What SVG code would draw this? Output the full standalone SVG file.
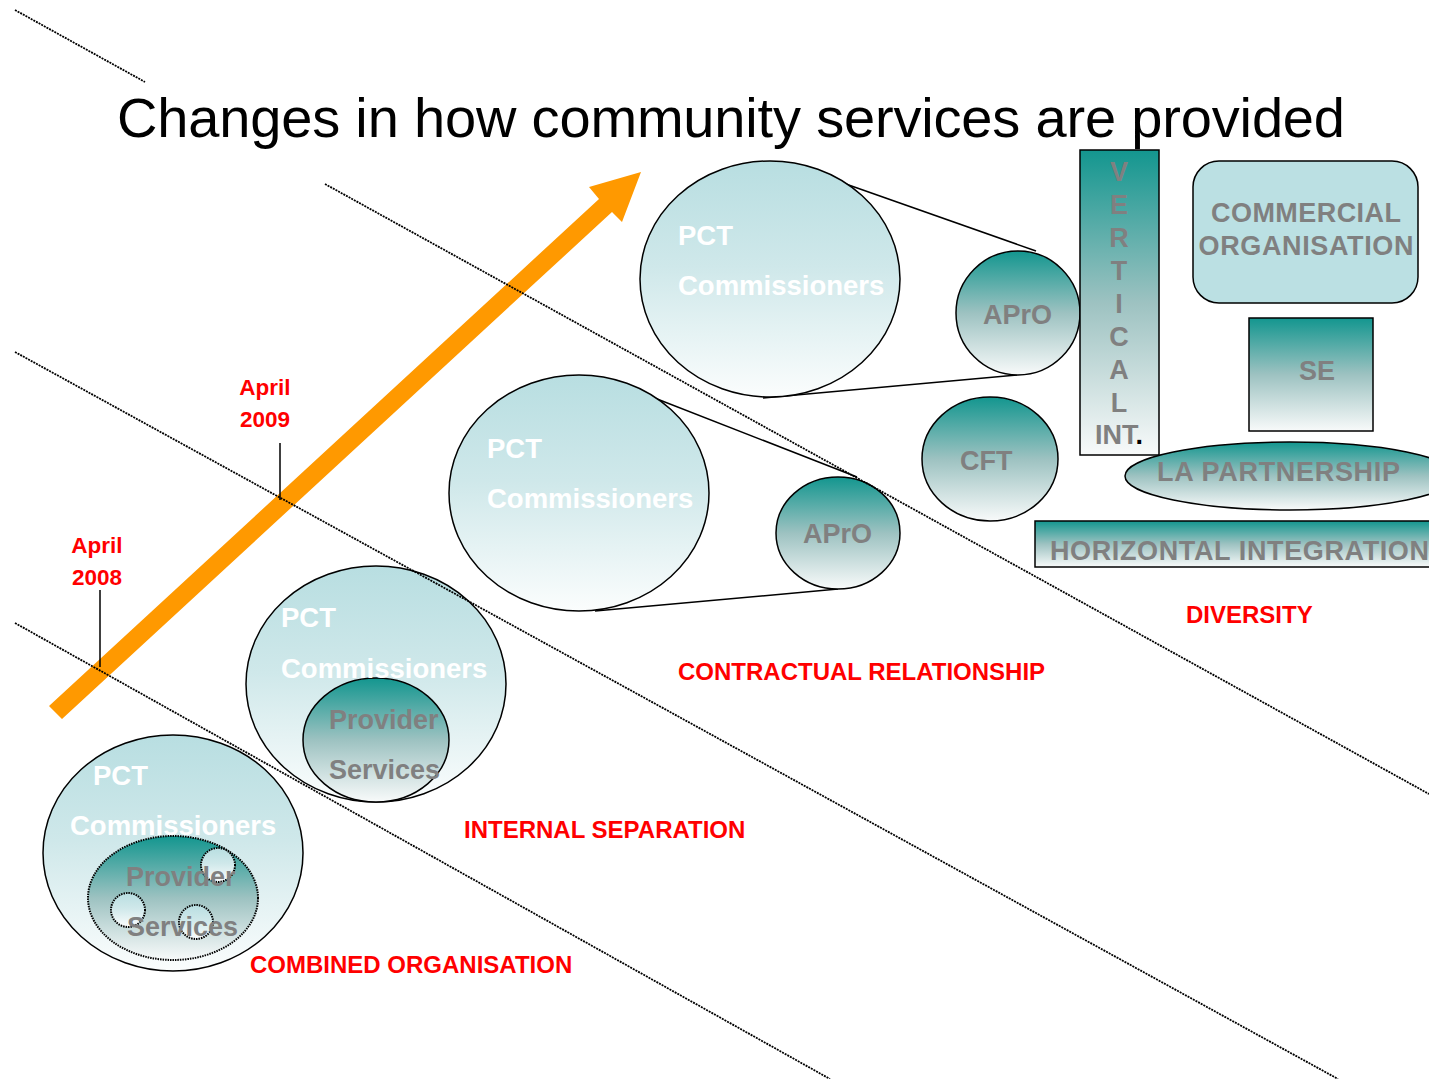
<svg xmlns="http://www.w3.org/2000/svg" width="1429" height="1079" viewBox="0 0 1429 1079">
<defs>
<linearGradient id="gLight" x1="0" y1="0" x2="0" y2="1">
<stop offset="0" stop-color="#b8dee1"/>
<stop offset="0.45" stop-color="#cfe8ea"/>
<stop offset="1" stop-color="#fbfdfd"/>
</linearGradient>
<linearGradient id="gTeal" x1="0" y1="0" x2="0" y2="1">
<stop offset="0" stop-color="#13968f"/>
<stop offset="0.5" stop-color="#9dc2c1"/>
<stop offset="1" stop-color="#f8fafa"/>
</linearGradient>
<style>
.dot{fill:none;stroke:#000;stroke-width:1.8;stroke-dasharray:2 1}
.edge{fill:none;stroke:#000;stroke-width:1.5}
.pct{fill:url(#gLight);stroke:#000;stroke-width:1.5}
.teal{fill:url(#gTeal);stroke:#000;stroke-width:1.5}
.wt{font-family:"Liberation Sans",Arial,sans-serif;font-weight:bold;font-size:27.5px;fill:#fff}
.gt{font-family:"Liberation Sans",Arial,sans-serif;font-weight:bold;font-size:27px;fill:#808080}
.rt{font-family:"Liberation Sans",Arial,sans-serif;font-weight:bold;font-size:24px;fill:#ff0000}
.at{font-family:"Liberation Sans",Arial,sans-serif;font-weight:bold;font-size:22.5px;fill:#ff0000;text-anchor:middle}
.vt{font-family:"Liberation Sans",Arial,sans-serif;font-weight:bold;font-size:27px;fill:#808080;text-anchor:middle}
.sm{fill:url(#gLight);stroke:#000;stroke-width:2;stroke-dasharray:1.5 1}
</style>
</defs>
<rect width="1429" height="1079" fill="#fff"/>

<text x="117" y="137" font-family="'Liberation Sans',Arial,sans-serif" font-size="56" fill="#000" textLength="1228">Changes in how community services are provided</text>

<g id="arrow">
<polygon points="49,706 599,199 589,187 641,172 622,222 612,212 62,719" fill="#ff9900"/>
</g>

<g id="combined">
<ellipse class="pct" cx="173" cy="853" rx="130" ry="118"/>
<ellipse cx="173" cy="898" rx="85" ry="62" fill="url(#gTeal)" stroke="#000" stroke-width="2" stroke-dasharray="1.5 1"/>
<circle class="sm" cx="218" cy="865" r="17"/>
<circle class="sm" cx="128" cy="910" r="17"/>
<circle class="sm" cx="196" cy="922" r="17"/>
<text class="wt" x="93" y="785">PCT</text>
<text class="wt" x="70" y="835">Commissioners</text>
<text class="gt" x="126" y="886">Provider</text>
<text class="gt" x="127" y="936">Services</text>
</g>

<g id="internal">
<ellipse class="pct" cx="376" cy="684" rx="130" ry="118"/>
<ellipse class="teal" cx="376" cy="740" rx="73" ry="62"/>
<text class="wt" x="281" y="627">PCT</text>
<text class="wt" x="281" y="678">Commissioners</text>
<text class="gt" x="329" y="729">Provider</text>
<text class="gt" x="329" y="779">Services</text>
</g>

<g id="contractual">
<line class="edge" x1="652" y1="397" x2="857" y2="477"/>
<line class="edge" x1="595" y1="611" x2="838" y2="589"/>
<ellipse class="pct" cx="579" cy="493" rx="130" ry="118"/>
<ellipse class="teal" cx="838" cy="533" rx="62" ry="56"/>
<text class="wt" x="487" y="458">PCT</text>
<text class="wt" x="487" y="508">Commissioners</text>
<text class="gt" x="803" y="543">APrO</text>
</g>

<g id="diversity">
<line class="edge" x1="843" y1="183" x2="1036" y2="251"/>
<line class="edge" x1="763" y1="398" x2="1017" y2="375"/>
<ellipse class="pct" cx="770" cy="279" rx="130" ry="118"/>
<ellipse class="teal" cx="1018" cy="313" rx="62" ry="62"/>
<text class="wt" x="678" y="245">PCT</text>
<text class="wt" x="678" y="295">Commissioners</text>
<text class="gt" x="983" y="324">APrO</text>
</g>

<g id="cft">
<ellipse class="teal" cx="990" cy="459" rx="68" ry="62"/>
<text class="gt" x="960" y="470">CFT</text>
</g>

<g id="vertical">
<rect x="1080" y="150" width="79" height="305" fill="url(#gTeal)" stroke="#000" stroke-width="1.5"/>
<text class="vt" x="1119" y="181">V</text>
<text class="vt" x="1119" y="214">E</text>
<text class="vt" x="1119" y="247">R</text>
<text class="vt" x="1119" y="280">T</text>
<text class="vt" x="1119" y="313">I</text>
<text class="vt" x="1119" y="346">C</text>
<text class="vt" x="1119" y="379">A</text>
<text class="vt" x="1119" y="412">L</text>
<text class="vt" x="1119" y="444">INT<tspan fill="#000">.</tspan></text>
</g>

<g id="commercial">
<rect x="1193" y="161" width="225" height="142" rx="26" ry="26" fill="#bbe0e3" stroke="#000" stroke-width="1.5"/>
<text class="gt" x="1306" y="222" text-anchor="middle" font-size="27.5" textLength="190">COMMERCIAL</text>
<text class="gt" x="1306" y="255" text-anchor="middle" font-size="27.5" textLength="215">ORGANISATION</text>
</g>

<g id="se">
<rect x="1249" y="318" width="124" height="113" fill="url(#gTeal)" stroke="#000" stroke-width="1.5"/>
<text class="gt" x="1317" y="380" text-anchor="middle">SE</text>
</g>

<g id="la">
<ellipse class="teal" cx="1290" cy="476" rx="165" ry="34"/>
<text class="gt" x="1157" y="481" textLength="243">LA PARTNERSHIP</text>
</g>

<g id="horizontal">
<rect x="1035" y="521" width="410" height="46" fill="url(#gTeal)" stroke="#000" stroke-width="1.5"/>
<text class="gt" x="1050" y="560" textLength="379">HORIZONTAL INTEGRATION</text>
</g>

<g id="connectors">
<line class="dot" x1="15" y1="10" x2="145" y2="82"/>
<line class="dot" x1="325" y1="184" x2="1429" y2="794"/>
<line class="dot" x1="15" y1="352" x2="1338" y2="1079"/>
<line class="dot" x1="15" y1="623" x2="830" y2="1079"/>
<line class="edge" x1="100" y1="590" x2="100" y2="667"/>
<line class="edge" x1="280" y1="443" x2="280" y2="500"/>
</g>

<g id="labels">
<text class="at" x="97" y="553">April</text>
<text class="at" x="97" y="585">2008</text>
<text class="at" x="265" y="395">April</text>
<text class="at" x="265" y="427">2009</text>
<text class="rt" x="1186" y="623">DIVERSITY</text>
<text class="rt" x="678" y="680">CONTRACTUAL RELATIONSHIP</text>
<text class="rt" x="464" y="838">INTERNAL SEPARATION</text>
<text class="rt" x="250" y="973">COMBINED ORGANISATION</text>
</g>
</svg>
